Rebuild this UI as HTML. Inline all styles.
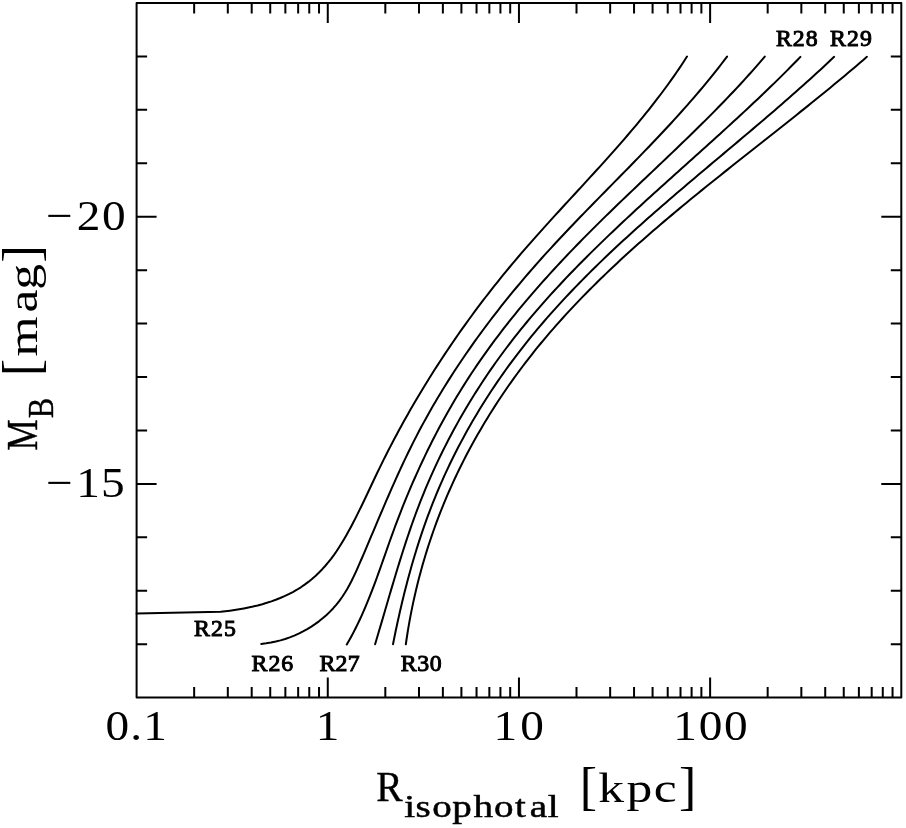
<!DOCTYPE html>
<html><head><meta charset="utf-8"><title>MB vs R isophotal</title>
<style>html,body{margin:0;padding:0;background:#fff}svg{display:block}text{font-family:"Liberation Serif",serif;fill:#000}.b{font-weight:bold}</style></head><body>
<svg width="906" height="828" viewBox="0 0 906 828">
<rect width="906" height="828" fill="#fff"/>
<g fill="none" stroke="#000" stroke-width="2.0" stroke-linejoin="round">
<rect x="136.6" y="3.0" width="764.70" height="694.60"/>
<path d="M194.15,697.6v-10.5M194.15,3.0v10.5M227.81,697.6v-10.5M227.81,3.0v10.5M251.70,697.6v-10.5M251.70,3.0v10.5M270.23,697.6v-10.5M270.23,3.0v10.5M285.36,697.6v-10.5M285.36,3.0v10.5M298.16,697.6v-10.5M298.16,3.0v10.5M309.25,697.6v-10.5M309.25,3.0v10.5M319.03,697.6v-10.5M319.03,3.0v10.5M327.77,697.6v-20M327.77,3.0v20M385.32,697.6v-10.5M385.32,3.0v10.5M418.99,697.6v-10.5M418.99,3.0v10.5M442.87,697.6v-10.5M442.87,3.0v10.5M461.40,697.6v-10.5M461.40,3.0v10.5M476.54,697.6v-10.5M476.54,3.0v10.5M489.34,697.6v-10.5M489.34,3.0v10.5M500.42,697.6v-10.5M500.42,3.0v10.5M510.20,697.6v-10.5M510.20,3.0v10.5M518.95,697.6v-20M518.95,3.0v20M576.50,697.6v-10.5M576.50,3.0v10.5M610.16,697.6v-10.5M610.16,3.0v10.5M634.05,697.6v-10.5M634.05,3.0v10.5M652.58,697.6v-10.5M652.58,3.0v10.5M667.71,697.6v-10.5M667.71,3.0v10.5M680.51,697.6v-10.5M680.51,3.0v10.5M691.60,697.6v-10.5M691.60,3.0v10.5M701.38,697.6v-10.5M701.38,3.0v10.5M710.12,697.6v-20M710.12,3.0v20M767.67,697.6v-10.5M767.67,3.0v10.5M801.34,697.6v-10.5M801.34,3.0v10.5M825.22,697.6v-10.5M825.22,3.0v10.5M843.75,697.6v-10.5M843.75,3.0v10.5M858.89,697.6v-10.5M858.89,3.0v10.5M871.69,697.6v-10.5M871.69,3.0v10.5M882.77,697.6v-10.5M882.77,3.0v10.5M892.55,697.6v-10.5M892.55,3.0v10.5M136.6,56.43h10.5M901.3,56.43h-10.5M136.6,109.86h10.5M901.3,109.86h-10.5M136.6,163.29h10.5M901.3,163.29h-10.5M136.6,216.72h20M901.3,216.72h-20M136.6,270.15h10.5M901.3,270.15h-10.5M136.6,323.58h10.5M901.3,323.58h-10.5M136.6,377.02h10.5M901.3,377.02h-10.5M136.6,430.45h10.5M901.3,430.45h-10.5M136.6,483.88h20M901.3,483.88h-20M136.6,537.31h10.5M901.3,537.31h-10.5M136.6,590.74h10.5M901.3,590.74h-10.5M136.6,644.17h10.5M901.3,644.17h-10.5"/>
</g>
<g fill="none" stroke="#000" stroke-width="2.0" stroke-linecap="round" stroke-linejoin="round">
<path d="M686.99,56.58 L684.45,60.53 L681.87,64.46 L679.26,68.36 L676.62,72.24 L673.95,76.09 L671.25,79.92 L668.52,83.73 L665.76,87.51 L662.98,91.27 L660.17,95.01 L657.33,98.73 L654.47,102.44 L651.59,106.12 L648.69,109.78 L645.76,113.43 L642.81,117.06 L639.85,120.68 L636.86,124.28 L633.86,127.86 L630.84,131.43 L627.80,134.99 L624.75,138.54 L621.68,142.07 L618.60,145.60 L615.51,149.11 L612.40,152.62 L609.29,156.11 L606.16,159.60 L603.03,163.08 L599.88,166.56 L596.73,170.03 L593.57,173.49 L590.41,176.95 L587.24,180.40 L584.07,183.86 L580.90,187.31 L577.72,190.76 L574.54,194.21 L571.37,197.65 L568.19,201.10 L565.01,204.55 L561.84,208.01 L558.67,211.46 L555.50,214.92 L552.34,218.39 L549.19,221.86 L546.04,225.33 L542.90,228.81 L539.77,232.30 L536.64,235.80 L533.53,239.30 L530.43,242.81 L527.34,246.34 L524.26,249.87 L521.20,253.42 L518.15,256.98 L515.12,260.55 L512.10,264.14 L509.10,267.74 L506.12,271.35 L503.15,274.97 L500.20,278.61 L497.27,282.26 L494.35,285.93 L491.45,289.61 L488.57,293.30 L485.71,297.01 L482.86,300.72 L480.03,304.45 L477.21,308.20 L474.42,311.95 L471.64,315.72 L468.87,319.51 L466.13,323.30 L463.40,327.11 L460.69,330.93 L458.00,334.76 L455.33,338.60 L452.67,342.46 L450.04,346.33 L447.42,350.21 L444.82,354.10 L442.23,358.01 L439.67,361.93 L437.12,365.86 L434.59,369.80 L432.08,373.75 L429.59,377.72 L427.12,381.69 L424.67,385.68 L422.23,389.68 L419.82,393.69 L417.42,397.72 L415.04,401.75 L412.69,405.80 L410.35,409.86 L408.03,413.92 L405.73,418.00 L403.45,422.10 L401.18,426.20 L398.94,430.31 L396.72,434.44 L394.52,438.57 L392.33,442.72 L390.17,446.87 L388.03,451.04 L385.91,455.22 L383.80,459.41 L381.72,463.61 L379.66,467.82 L377.62,472.04 L375.59,476.27 L373.58,480.51 L371.58,484.75 L369.58,488.99 L367.58,493.24 L365.57,497.48 L363.55,501.72 L361.51,505.95 L359.45,510.17 L357.37,514.38 L355.25,518.58 L353.10,522.76 L350.91,526.93 L348.67,531.07 L346.38,535.19 L344.03,539.28 L341.61,543.32 L339.11,547.30 L336.53,551.22 L333.85,555.06 L331.06,558.81 L328.17,562.46 L325.16,566.01 L322.03,569.44 L318.79,572.76 L315.43,575.94 L311.96,579.00 L308.37,581.91 L304.66,584.67 L300.84,587.28 L296.91,589.73 L292.86,592.03 L288.72,594.17 L284.49,596.17 L280.18,598.03 L275.80,599.76 L271.35,601.35 L266.85,602.82 L262.30,604.17 L257.71,605.41 L253.10,606.54 L248.47,607.56 L243.82,608.48 L239.17,609.31 L234.53,610.04 L229.91,610.70 L225.30,611.27 L220.73,611.77 L136.60,613.50"/>
<path d="M727.06,56.54 L724.14,60.40 L721.20,64.24 L718.23,68.06 L715.24,71.85 L712.23,75.62 L709.19,79.37 L706.13,83.10 L703.05,86.81 L699.95,90.50 L696.83,94.17 L693.69,97.82 L690.53,101.46 L687.36,105.08 L684.17,108.68 L680.96,112.27 L677.74,115.84 L674.50,119.40 L671.25,122.95 L667.99,126.48 L664.71,130.01 L661.43,133.52 L658.13,137.02 L654.82,140.51 L651.50,143.99 L648.18,147.47 L644.84,150.93 L641.50,154.39 L638.15,157.85 L634.80,161.30 L631.44,164.74 L628.08,168.18 L624.71,171.62 L621.34,175.05 L617.97,178.49 L614.59,181.92 L611.22,185.35 L607.84,188.78 L604.47,192.21 L601.09,195.65 L597.72,199.08 L594.36,202.52 L590.99,205.96 L587.63,209.41 L584.28,212.86 L580.93,216.32 L577.58,219.79 L574.25,223.26 L570.92,226.74 L567.60,230.23 L564.29,233.73 L560.99,237.23 L557.70,240.75 L554.42,244.28 L551.16,247.83 L547.90,251.38 L544.66,254.95 L541.44,258.53 L538.23,262.13 L535.04,265.74 L531.86,269.37 L528.70,273.02 L525.55,276.68 L522.42,280.35 L519.31,284.04 L516.21,287.74 L513.14,291.46 L510.08,295.20 L507.04,298.95 L504.02,302.71 L501.01,306.49 L498.03,310.28 L495.07,314.09 L492.12,317.92 L489.20,321.76 L486.30,325.61 L483.42,329.48 L480.55,333.37 L477.71,337.27 L474.90,341.18 L472.10,345.11 L469.33,349.06 L466.58,353.02 L463.85,356.99 L461.15,360.98 L458.47,364.99 L455.81,369.01 L453.18,373.04 L450.57,377.09 L447.99,381.16 L445.44,385.24 L442.91,389.33 L440.40,393.44 L437.92,397.56 L435.47,401.70 L433.04,405.85 L430.65,410.02 L428.28,414.21 L425.93,418.40 L423.62,422.62 L421.33,426.84 L419.07,431.09 L416.85,435.34 L414.65,439.61 L412.48,443.90 L410.34,448.20 L408.22,452.51 L406.13,456.84 L404.07,461.18 L402.03,465.53 L400.01,469.89 L398.00,474.27 L396.02,478.65 L394.05,483.04 L392.10,487.44 L390.16,491.85 L388.24,496.26 L386.32,500.68 L384.42,505.11 L382.52,509.55 L380.63,513.99 L378.74,518.43 L376.86,522.88 L374.98,527.33 L373.10,531.78 L371.22,536.23 L369.34,540.69 L367.45,545.14 L365.56,549.60 L363.66,554.05 L361.75,558.51 L359.83,562.96 L357.89,567.40 L355.91,571.82 L353.87,576.19 L351.76,580.52 L349.55,584.78 L347.22,588.96 L344.76,593.04 L342.15,597.02 L339.37,600.88 L336.42,604.60 L333.29,608.19 L330.00,611.64 L326.55,614.94 L322.96,618.09 L319.23,621.09 L315.36,623.93 L311.36,626.60 L307.25,629.11 L303.03,631.44 L298.70,633.60 L294.28,635.57 L289.76,637.36 L285.17,638.96 L280.50,640.36 L275.77,641.56 L270.98,642.55 L266.13,643.34 L261.25,643.91"/>
<path d="M764.78,56.56 L761.78,60.09 L758.76,63.59 L755.72,67.08 L752.66,70.54 L749.59,73.99 L746.50,77.41 L743.40,80.83 L740.28,84.22 L737.14,87.60 L734.00,90.96 L730.83,94.30 L727.66,97.63 L724.47,100.95 L721.27,104.26 L718.06,107.55 L714.84,110.83 L711.61,114.09 L708.37,117.35 L705.12,120.60 L701.85,123.83 L698.59,127.06 L695.31,130.28 L692.02,133.49 L688.73,136.69 L685.44,139.89 L682.13,143.08 L678.82,146.26 L675.51,149.44 L672.19,152.62 L668.87,155.79 L665.55,158.96 L662.22,162.12 L658.89,165.29 L655.56,168.45 L652.23,171.61 L648.89,174.78 L645.56,177.94 L642.23,181.10 L638.90,184.27 L635.57,187.43 L632.24,190.60 L628.91,193.78 L625.59,196.96 L622.27,200.14 L618.95,203.33 L615.64,206.52 L612.34,209.72 L609.04,212.93 L605.74,216.14 L602.45,219.36 L599.17,222.60 L595.90,225.84 L592.64,229.09 L589.38,232.35 L586.13,235.63 L582.90,238.91 L579.67,242.21 L576.45,245.51 L573.24,248.83 L570.05,252.16 L566.87,255.50 L563.70,258.86 L560.54,262.23 L557.39,265.61 L554.26,269.00 L551.14,272.40 L548.04,275.82 L544.95,279.25 L541.88,282.69 L538.82,286.15 L535.78,289.62 L532.76,293.10 L529.75,296.60 L526.76,300.11 L523.79,303.64 L520.84,307.18 L517.91,310.73 L514.99,314.30 L512.10,317.89 L509.23,321.49 L506.37,325.10 L503.54,328.73 L500.73,332.38 L497.94,336.04 L495.18,339.71 L492.43,343.40 L489.71,347.11 L487.02,350.84 L484.35,354.58 L481.70,358.33 L479.08,362.11 L476.49,365.90 L473.92,369.71 L471.37,373.53 L468.86,377.37 L466.37,381.23 L463.91,385.11 L461.48,389.00 L459.07,392.91 L456.69,396.84 L454.34,400.79 L452.01,404.75 L449.72,408.72 L447.44,412.71 L445.20,416.72 L442.98,420.74 L440.79,424.78 L438.62,428.83 L436.48,432.90 L434.36,436.98 L432.27,441.07 L430.20,445.18 L428.16,449.30 L426.15,453.43 L424.16,457.58 L422.19,461.74 L420.25,465.91 L418.33,470.09 L416.43,474.29 L414.56,478.50 L412.71,482.71 L410.89,486.94 L409.09,491.18 L407.31,495.43 L405.55,499.69 L403.82,503.96 L402.11,508.24 L400.42,512.52 L398.76,516.82 L397.12,521.13 L395.50,525.44 L393.90,529.77 L392.32,534.10 L390.76,538.43 L389.21,542.78 L387.67,547.12 L386.15,551.47 L384.62,555.82 L383.09,560.16 L381.56,564.51 L380.03,568.85 L378.48,573.18 L376.91,577.51 L375.33,581.82 L373.72,586.13 L372.09,590.42 L370.42,594.70 L368.73,598.97 L366.99,603.22 L365.22,607.45 L363.39,611.66 L361.53,615.85 L359.60,620.02 L357.63,624.16 L355.59,628.27 L353.49,632.36 L351.32,636.42 L349.08,640.45 L346.77,644.44"/>
<path d="M800.40,56.92 L797.19,60.23 L793.96,63.53 L790.72,66.81 L787.47,70.09 L784.20,73.36 L780.91,76.61 L777.62,79.86 L774.31,83.10 L770.98,86.32 L767.65,89.54 L764.31,92.75 L760.95,95.96 L757.58,99.15 L754.21,102.34 L750.82,105.52 L747.43,108.69 L744.02,111.86 L740.61,115.03 L737.19,118.18 L733.77,121.33 L730.33,124.48 L726.89,127.63 L723.45,130.77 L720.00,133.90 L716.54,137.04 L713.08,140.17 L709.62,143.29 L706.15,146.42 L702.68,149.54 L699.21,152.67 L695.73,155.79 L692.26,158.91 L688.78,162.03 L685.30,165.15 L681.82,168.28 L678.34,171.40 L674.87,174.52 L671.39,177.65 L667.91,180.78 L664.44,183.91 L660.97,187.04 L657.50,190.18 L654.04,193.32 L650.58,196.46 L647.12,199.61 L643.67,202.76 L640.22,205.92 L636.78,209.09 L633.35,212.26 L629.92,215.43 L626.50,218.61 L623.09,221.80 L619.68,225.00 L616.29,228.20 L612.90,231.41 L609.52,234.63 L606.15,237.86 L602.79,241.10 L599.45,244.35 L596.11,247.60 L592.79,250.87 L589.48,254.15 L586.18,257.44 L582.89,260.74 L579.62,264.05 L576.36,267.37 L573.12,270.71 L569.89,274.06 L566.67,277.42 L563.48,280.80 L560.29,284.19 L557.13,287.59 L553.98,291.01 L550.85,294.44 L547.74,297.89 L544.65,301.36 L541.57,304.84 L538.52,308.34 L535.49,311.85 L532.47,315.38 L529.48,318.93 L526.51,322.50 L523.56,326.09 L520.63,329.69 L517.73,333.31 L514.84,336.96 L511.99,340.62 L509.15,344.30 L506.35,348.01 L503.56,351.73 L500.80,355.48 L498.07,359.24 L495.36,363.03 L492.68,366.84 L490.03,370.67 L487.40,374.51 L484.80,378.38 L482.22,382.26 L479.68,386.17 L477.16,390.09 L474.66,394.03 L472.20,397.99 L469.76,401.97 L467.35,405.97 L464.97,409.98 L462.62,414.01 L460.29,418.06 L458.00,422.12 L455.73,426.20 L453.49,430.30 L451.28,434.41 L449.11,438.54 L446.96,442.68 L444.84,446.84 L442.75,451.02 L440.69,455.21 L438.67,459.41 L436.67,463.63 L434.70,467.86 L432.77,472.10 L430.87,476.36 L429.00,480.63 L427.16,484.92 L425.35,489.22 L423.57,493.53 L421.83,497.85 L420.12,502.18 L418.44,506.53 L416.79,510.88 L415.18,515.25 L413.59,519.63 L412.02,524.01 L410.49,528.41 L408.97,532.81 L407.48,537.22 L406.01,541.64 L404.56,546.07 L403.13,550.50 L401.72,554.94 L400.32,559.39 L398.94,563.84 L397.57,568.29 L396.21,572.75 L394.87,577.21 L393.53,581.67 L392.20,586.14 L390.88,590.61 L389.57,595.08 L388.26,599.55 L386.95,604.02 L385.64,608.49 L384.33,612.96 L383.03,617.43 L381.72,621.90 L380.40,626.36 L379.08,630.83 L377.76,635.29 L376.43,639.74 L375.09,644.19"/>
<path d="M834.13,56.83 L830.73,60.05 L827.31,63.26 L823.87,66.46 L820.43,69.65 L816.96,72.83 L813.49,76.00 L810.01,79.16 L806.51,82.32 L803.00,85.46 L799.48,88.60 L795.95,91.73 L792.42,94.86 L788.87,97.98 L785.31,101.09 L781.74,104.19 L778.17,107.29 L774.59,110.39 L771.00,113.48 L767.40,116.56 L763.80,119.64 L760.19,122.72 L756.58,125.80 L752.96,128.87 L749.34,131.94 L745.71,135.00 L742.08,138.07 L738.45,141.13 L734.81,144.20 L731.17,147.26 L727.53,150.32 L723.89,153.38 L720.25,156.44 L716.61,159.50 L712.96,162.57 L709.32,165.63 L705.68,168.70 L702.04,171.77 L698.40,174.84 L694.76,177.92 L691.13,181.00 L687.50,184.08 L683.87,187.16 L680.25,190.25 L676.63,193.35 L673.01,196.45 L669.41,199.55 L665.80,202.67 L662.21,205.78 L658.62,208.91 L655.03,212.04 L651.46,215.18 L647.89,218.33 L644.33,221.48 L640.78,224.65 L637.24,227.82 L633.71,231.00 L630.19,234.19 L626.68,237.39 L623.18,240.60 L619.70,243.82 L616.22,247.06 L612.76,250.30 L609.31,253.56 L605.87,256.83 L602.45,260.11 L599.04,263.40 L595.65,266.71 L592.27,270.03 L588.91,273.36 L585.56,276.71 L582.23,280.08 L578.92,283.46 L575.62,286.85 L572.35,290.26 L569.09,293.69 L565.85,297.13 L562.62,300.59 L559.42,304.07 L556.24,307.56 L553.08,311.07 L549.94,314.61 L546.82,318.16 L543.73,321.72 L540.65,325.31 L537.60,328.92 L534.57,332.55 L531.57,336.20 L528.59,339.87 L525.63,343.56 L522.70,347.28 L519.79,351.01 L516.92,354.77 L514.06,358.55 L511.23,362.35 L508.43,366.17 L505.66,370.02 L502.92,373.88 L500.20,377.77 L497.51,381.68 L494.84,385.61 L492.21,389.55 L489.60,393.52 L487.03,397.51 L484.48,401.52 L481.96,405.54 L479.48,409.59 L477.02,413.65 L474.59,417.73 L472.19,421.84 L469.83,425.95 L467.49,430.09 L465.19,434.25 L462.92,438.42 L460.68,442.61 L458.47,446.81 L456.30,451.04 L454.15,455.27 L452.04,459.53 L449.97,463.80 L447.93,468.09 L445.92,472.39 L443.95,476.71 L442.01,481.04 L440.10,485.39 L438.23,489.75 L436.40,494.13 L434.60,498.52 L432.84,502.93 L431.11,507.35 L429.42,511.78 L427.76,516.22 L426.14,520.68 L424.55,525.15 L422.99,529.63 L421.47,534.12 L419.97,538.62 L418.51,543.14 L417.08,547.66 L415.67,552.19 L414.30,556.73 L412.96,561.28 L411.64,565.84 L410.35,570.41 L409.09,574.98 L407.85,579.56 L406.64,584.15 L405.46,588.75 L404.30,593.35 L403.16,597.95 L402.05,602.56 L400.96,607.18 L399.89,611.80 L398.85,616.42 L397.82,621.05 L396.82,625.68 L395.83,630.32 L394.87,634.95 L393.92,639.59 L393.00,644.23"/>
<path d="M866.90,56.80 L863.29,59.92 L859.67,63.03 L856.04,66.14 L852.40,69.23 L848.74,72.32 L845.07,75.40 L841.40,78.47 L837.71,81.54 L834.01,84.60 L830.30,87.65 L826.58,90.70 L822.86,93.74 L819.12,96.78 L815.38,99.81 L811.63,102.84 L807.88,105.87 L804.11,108.89 L800.34,111.90 L796.57,114.92 L792.79,117.93 L789.00,120.94 L785.22,123.95 L781.42,126.96 L777.63,129.96 L773.83,132.97 L770.02,135.97 L766.22,138.98 L762.41,141.98 L758.60,144.99 L754.79,148.00 L750.98,151.01 L747.17,154.01 L743.36,157.03 L739.55,160.04 L735.75,163.06 L731.94,166.08 L728.14,169.10 L724.34,172.13 L720.54,175.16 L716.74,178.20 L712.95,181.24 L709.16,184.28 L705.38,187.33 L701.60,190.39 L697.83,193.46 L694.06,196.53 L690.30,199.60 L686.55,202.69 L682.80,205.78 L679.06,208.88 L675.33,211.99 L671.61,215.11 L667.90,218.23 L664.19,221.37 L660.50,224.51 L656.82,227.67 L653.14,230.84 L649.48,234.01 L645.83,237.20 L642.19,240.40 L638.56,243.61 L634.95,246.84 L631.35,250.07 L627.76,253.32 L624.19,256.59 L620.63,259.86 L617.09,263.15 L613.56,266.46 L610.05,269.78 L606.55,273.11 L603.07,276.46 L599.61,279.83 L596.17,283.21 L592.74,286.61 L589.33,290.02 L585.94,293.45 L582.57,296.90 L579.22,300.37 L575.89,303.86 L572.58,307.36 L569.29,310.88 L566.02,314.42 L562.78,317.99 L559.55,321.57 L556.35,325.17 L553.17,328.79 L550.02,332.44 L546.89,336.10 L543.78,339.79 L540.70,343.50 L537.64,347.23 L534.61,350.98 L531.61,354.76 L528.63,358.56 L525.68,362.38 L522.76,366.23 L519.86,370.09 L516.99,373.98 L514.15,377.89 L511.34,381.83 L508.55,385.78 L505.80,389.75 L503.07,393.75 L500.37,397.77 L497.71,401.80 L495.07,405.86 L492.47,409.94 L489.89,414.04 L487.35,418.16 L484.83,422.29 L482.35,426.45 L479.91,430.63 L477.49,434.82 L475.11,439.04 L472.76,443.27 L470.44,447.52 L468.16,451.79 L465.91,456.08 L463.70,460.38 L461.52,464.70 L459.37,469.04 L457.27,473.40 L455.19,477.78 L453.16,482.17 L451.16,486.58 L449.19,491.00 L447.26,495.44 L445.38,499.90 L443.52,504.38 L441.71,508.86 L439.93,513.37 L438.19,517.89 L436.49,522.42 L434.83,526.97 L433.20,531.53 L431.62,536.11 L430.07,540.70 L428.56,545.30 L427.09,549.91 L425.65,554.54 L424.26,559.18 L422.90,563.83 L421.59,568.49 L420.31,573.16 L419.07,577.84 L417.87,582.53 L416.70,587.24 L415.58,591.95 L414.50,596.67 L413.45,601.40 L412.45,606.14 L411.48,610.88 L410.55,615.64 L409.66,620.40 L408.82,625.17 L408.01,629.94 L407.24,634.73 L406.51,639.51 L405.82,644.31"/>
</g>
<text transform="translate(0,230.2) scale(1.1,1)" x="41.85 69.86 92.75" y="0" font-size="43">−20</text>
<text transform="translate(0,496.9) scale(1.1,1)" x="41.85 69.42 91.89" y="0" font-size="43">−15</text>
<text transform="translate(0,740) scale(1.1,1)" x="95.98 118.49 130.33" y="0" font-size="43">0.1</text>
<text transform="translate(0,740) scale(1.1,1)" x="287.15" y="0" font-size="43">1</text>
<text transform="translate(0,740) scale(1.1,1)" x="448.74 473.02" y="0" font-size="43">10</text>
<text transform="translate(0,740) scale(1.1,1)" x="612.02 635.16 658.16" y="0" font-size="43">100</text>
<text transform="translate(0,46.2) scale(1,1)" x="775.91 792.85 805.81" y="0" font-size="23.8" stroke="#000" stroke-width="1.0">R28</text>
<text transform="translate(0,46.2) scale(1,1)" x="830.01 846.98 859.98" y="0" font-size="23.8" stroke="#000" stroke-width="1.0">R29</text>
<text transform="translate(0,636.4) scale(1,1)" x="194.01 210.96 223.93" y="0" font-size="23.8" stroke="#000" stroke-width="1.0">R25</text>
<text transform="translate(0,671.1) scale(1,1)" x="251.61 268.45 281.31" y="0" font-size="23.8" stroke="#000" stroke-width="1.0">R26</text>
<text transform="translate(0,671.1) scale(1,1)" x="319.41 335.59 347.79" y="0" font-size="23.8" stroke="#000" stroke-width="1.0">R27</text>
<text transform="translate(0,671.1) scale(1,1)" x="400.71 417.2 429.71" y="0" font-size="23.8" stroke="#000" stroke-width="1.0">R30</text>
<text transform="translate(0,801) scale(0.92,1)" x="408.98" y="0" font-size="43" stroke="#000" stroke-width="0.4">R</text>
<text transform="translate(0,817.3) scale(1.22,1)" x="331.34 340.58 354.21 370.65 388.04 404.95 422.21 434.19 449" y="0" font-size="32" stroke="#000" stroke-width="0.5">isophotal</text>
<text transform="translate(0,803.6) scale(1,1)" x="579.74" y="0" font-size="51.8">[</text>
<text transform="translate(0,801.5) scale(1.2,1)" x="498.51 522.08 544.88" y="0" font-size="43">kpc</text>
<text transform="translate(0,803.6) scale(1,1)" x="679.06" y="0" font-size="51.8">]</text>
<text transform="translate(36.6,450) rotate(-90) translate(0,0) scale(0.79,1)" x="-0.61" y="0" font-size="44.4" stroke="#000" stroke-width="0.4">M</text>
<text transform="translate(36.6,450) rotate(-90) translate(0,16.3) scale(0.87,1)" x="36.54" y="0" font-size="35.2" stroke="#000" stroke-width="0.4">B</text>
<text transform="translate(36.6,450) rotate(-90) translate(0,2.4) scale(1,1)" x="73.99" y="0" font-size="51.8">[</text>
<text transform="translate(36.6,450) rotate(-90) translate(0,0) scale(1.2,1)" x="77.99 114.58 133.65" y="0" font-size="43">mag</text>
<text transform="translate(36.6,450) rotate(-90) translate(0,2.4) scale(1,1)" x="187.61" y="0" font-size="51.8">]</text>
</svg></body></html>
